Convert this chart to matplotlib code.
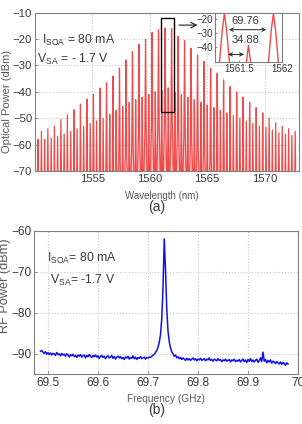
import numpy as np
import matplotlib
matplotlib.use('Agg')
import matplotlib.pyplot as plt

plt.rcParams['font.family'] = ['Liberation Sans', 'DejaVu Sans']
plt.rcParams['mathtext.fontset'] = 'custom'
plt.rcParams['mathtext.rm'] = 'Liberation Sans'
plt.rcParams['mathtext.it'] = 'Liberation Sans:italic'

# ---------------- data: (a) optical spectrum ----------------
MAIN_WL = [1549.99, 1550.56, 1551.12, 1551.69, 1552.26, 1552.82, 1553.39, 1553.96, 1554.53,
           1555.09, 1555.66, 1556.23, 1556.79, 1557.36, 1557.93, 1558.49, 1559.06, 1559.63,
           1560.20, 1560.76, 1561.33, 1561.90, 1562.46, 1563.03, 1563.60, 1564.16, 1564.73,
           1565.30, 1565.87, 1566.43, 1567.00, 1567.57, 1568.13, 1568.70, 1569.27, 1569.84,
           1570.40, 1570.97, 1571.54, 1572.10, 1572.67]
MAIN_DBM = [-56.5, -55.0, -54.0, -53.0, -50.5, -48.7, -46.8, -44.7, -42.8,
            -41.0, -38.6, -36.6, -34.0, -31.0, -27.9, -24.8, -22.0, -20.0,
            -17.5, -16.5, -15.8, -16.0, -19.0, -20.5, -23.5, -26.0, -28.5,
            -31.0, -33.0, -35.5, -38.0, -40.0, -42.0, -44.0, -46.0, -48.0,
            -50.0, -51.7, -53.0, -54.0, -55.0]
SUB_WL = [1550.27, 1550.84, 1551.41, 1551.97, 1552.54, 1553.11, 1553.67, 1554.24, 1554.81,
          1555.37, 1555.94, 1556.51, 1557.07, 1557.64, 1558.21, 1558.77, 1559.34, 1559.91,
          1560.48, 1561.04, 1561.61, 1562.18, 1562.75, 1563.31, 1563.88, 1564.45, 1565.01,
          1565.58, 1566.15, 1566.71, 1567.28, 1567.85, 1568.41, 1568.98, 1569.55, 1570.12,
          1570.68, 1571.25, 1571.82, 1572.38]
SUB_DBM = [-58.0, -58.0, -57.5, -57.0, -56.0, -55.0, -54.0, -53.0, -52.0,
           -51.0, -50.0, -48.5, -47.0, -45.5, -44.0, -43.0, -42.0, -41.0,
           -40.0, -39.5, -38.5, -40.0, -41.0, -42.0, -43.0, -44.0, -45.0,
           -46.0, -47.0, -48.0, -49.0, -50.0, -51.0, -52.0, -53.0, -53.5,
           -54.5, -55.5, -56.0, -56.5]
WL_TICKS = [1555, 1560, 1565, 1570]
OPT_TICKS = [-70, -60, -50, -40, -30, -20, -10]
INSET_XTICKS = [1561.5, 1562]
INSET_YTICKS = [-40, -30, -20]
SPACING_LABELS = ['69.76', '34.88']

# ---------------- data: (b) RF spectrum ----------------
RF_F_START, RF_F_STOP = 69.485, 69.98
RF_DBM = [
    -89.4, -89.2, -89.6, -89.9, -89.5, -90.1, -89.7, -90.2, -89.8, -90.3,
    -89.9, -90.0, -90.4, -89.7, -90.2, -90.0, -90.5, -89.9, -90.3, -90.1,
    -90.6, -90.0, -90.3, -90.8, -90.2, -90.5, -90.1, -90.7, -90.4, -90.9,
    -90.3, -90.6, -90.2, -90.8, -90.5, -90.3, -91.0, -90.4, -90.7, -90.2,
    -90.6, -90.9, -90.4, -90.7, -90.3, -90.8, -90.5, -91.1, -90.6, -90.4,
    -90.9, -90.6, -91.2, -90.7, -90.5, -91.0, -90.8, -90.4, -91.1, -90.7,
    -91.3, -90.8, -90.6, -91.0, -90.7, -91.2, -90.9, -91.4, -90.8, -91.0,
    -90.6, -91.3, -90.9, -91.1, -90.5, -91.2, -90.8, -91.4, -90.9, -91.1,
    -90.7, -91.2, -91.0, -90.8, -91.3, -90.9, -91.0, -90.8, -90.9, -90.6,
    -90.4, -90.1, -89.7, -89.2, -88.4, -87.2, -85.3, -81.5, -74.0, -62.0,
    -69.5, -79.0, -84.5, -87.0, -88.6, -89.5, -90.0, -90.6, -90.3, -91.0,
    -90.7, -91.2, -90.9, -91.4, -91.0, -91.3, -91.6, -91.1, -91.5, -91.2,
    -91.6, -91.3, -91.0, -91.5, -91.2, -91.7, -91.3, -91.5, -91.1, -91.6,
    -91.4, -91.2, -91.7, -91.3, -91.5, -91.0, -91.6, -91.4, -91.8, -91.3,
    -91.5, -91.7, -91.2, -91.6, -91.4, -91.9, -91.5, -91.7, -91.3, -91.8,
    -91.6, -91.4, -92.0, -91.5, -91.7, -91.3, -91.9, -91.6, -91.8, -91.4,
    -92.0, -91.6, -91.3, -91.9, -91.5, -92.1, -91.4, -91.8, -91.2, -91.9,
    -91.5, -92.0, -91.6, -91.3, -92.1, -91.7, -91.0, -91.9, -89.6, -91.8,
    -91.4, -92.2, -91.6, -92.0, -91.5, -92.3, -91.8, -92.0, -92.4, -91.9,
    -92.2, -92.5, -92.0, -92.6, -92.1, -92.4, -92.8, -92.2, -92.5]
RF_XTICKS = [69.5, 69.6, 69.7, 69.8, 69.9, 70.0]
RF_YTICKS = [-90, -80, -70, -60]

# ---------------- styling ----------------
TICK_COLOR = '#3a3a3a'
LABEL_COLOR = '#5a5a5a'
GRID_KW = dict(color='#c8c8c8', linestyle=':', linewidth=0.8)
SPINE_COLOR = '#808080'
LINE_RED = '#f04a4a'
FILL_PINK = '#ffc8c8'
FLOOR = -82.0
PROFILE_DX = [-0.2, -0.06, -0.025, 0.0, 0.025, 0.06, 0.2]
PROFILE_DEPTH = [None, 36.0, 12.0, 0.0, 12.0, 36.0, None]

# build optical trace from peak list
peaks = sorted(zip(MAIN_WL + SUB_WL, MAIN_DBM + SUB_DBM))
tr_x, tr_y = [], []
for wl, h in peaks:
    for dx, d in zip(PROFILE_DX, PROFILE_DEPTH):
        tr_x.append(wl + dx)
        tr_y.append(FLOOR if d is None else max(h - d, FLOOR))

fig = plt.figure(figsize=(3.02, 4.24), dpi=100)
W, H = 302.0, 424.0


def px_axes(l, r, t, b):
    return fig.add_axes([l / W, 1 - b / H, (r - l) / W, (b - t) / H])


def style(ax, fs=8.2):
    for s in ax.spines.values():
        s.set_color(SPINE_COLOR)
        s.set_linewidth(0.8)
    ax.tick_params(direction='in', length=2, width=0.6, colors=SPINE_COLOR,
                   labelcolor=TICK_COLOR, labelsize=fs, pad=2)


# ---- (a) ----
ax1 = px_axes(35, 299, 12.7, 171)
ax1.fill(tr_x, tr_y, color=FILL_PINK, lw=0, zorder=1)
ax1.plot(tr_x, tr_y, color=LINE_RED, lw=0.9, zorder=2)
ax1.set_xlim(1550, 1573)
ax1.set_ylim(-70, -10)
ax1.set_xticks(WL_TICKS)
ax1.set_yticks(OPT_TICKS)
ax1.grid(True, **GRID_KW)
ax1.set_axisbelow(True)
style(ax1)
ax1.set_xlabel('Wavelength (nm)', fontsize=7, color=LABEL_COLOR)
ax1.xaxis.set_label_coords(0.479, -0.124)
ax1.set_ylabel('Optical Power (dBm)', fontsize=8.0, color=LABEL_COLOR)
ax1.yaxis.set_label_coords(-0.088, 0.44)
ax1.text(0.025, 0.80, r'$\mathregular{I_{SOA}}$ = 80 mA', transform=ax1.transAxes,
         fontsize=8.8, color=TICK_COLOR)
ax1.text(0.007, 0.685, r'$\mathregular{V_{SA}}$ = - 1.7 V', transform=ax1.transAxes,
         fontsize=8.8, color=TICK_COLOR)
# zoom box and arrow
ax1.add_patch(plt.Rectangle((INSET_XTICKS[0] - 0.48, -47.5), 1.07, 35.5, fill=False,
                            edgecolor='black', lw=1.0, zorder=5))
ax1.annotate('', xy=(1564.4, -14.7), xytext=(1562.3, -14.7),
             arrowprops=dict(arrowstyle='->', color='#222222', lw=0.8), zorder=5)

# ---- inset ----
axi = px_axes(215, 282, 12.7, 61.5)
axi.set_facecolor('white')
axi.plot(tr_x, tr_y, color=LINE_RED, lw=1.0)
axi.set_xlim(1561.22, 1562.0)
axi.set_ylim(-50, -15.5)
axi.set_xticks(INSET_XTICKS)
axi.set_xticklabels(['1561.5', '1562'])
axi.set_yticks(INSET_YTICKS)
style(axi, fs=7)
axi.tick_params(length=1.5, pad=1.5)
axi.annotate('', xy=(MAIN_WL[21] - 0.05, -27.5), xytext=(MAIN_WL[20] + 0.02, -27.5),
             arrowprops=dict(arrowstyle='<->', color='#222222', lw=0.7, mutation_scale=6))
axi.annotate('', xy=(SUB_WL[20] - 0.02, -45), xytext=(MAIN_WL[20] + 0.01, -45),
             arrowprops=dict(arrowstyle='<->', color='#222222', lw=0.7, mutation_scale=6))
axi.text(1561.41, -21.5, SPACING_LABELS[0], fontsize=8, color=TICK_COLOR, va='center')
axi.text(1561.41, -34.5, SPACING_LABELS[1], fontsize=8, color=TICK_COLOR, va='center')

fig.text(157 / W, 1 - 207 / H, '(a)', ha='center', va='center', fontsize=10, color=TICK_COLOR)

# ---- (b) ----
ax2 = px_axes(34, 298, 230.7, 374.3)
rf_f = np.linspace(RF_F_START, RF_F_STOP, len(RF_DBM))
ax2.plot(rf_f, RF_DBM, color='#1010f0', lw=1.1)
ax2.set_xlim(69.472, 70.0)
ax2.set_ylim(-95, -60)
ax2.set_xticks(RF_XTICKS)
ax2.set_xticklabels(['69.5', '69.6', '69.7', '69.8', '69.9', '70'])
ax2.set_yticks(RF_YTICKS)
ax2.grid(True, **GRID_KW)
ax2.set_axisbelow(True)
style(ax2, fs=8.6)
ax2.set_xlabel('Frequency (GHz)', fontsize=7.3, color=LABEL_COLOR)
ax2.xaxis.set_label_coords(0.498, -0.139)
ax2.set_ylabel('RF Power (dBm)', fontsize=9.2, color=LABEL_COLOR)
ax2.yaxis.set_label_coords(-0.086, 0.62)
ax2.text(0.05, 0.78, r'$\mathregular{I_{SOA}}$= 80 mA', transform=ax2.transAxes,
         fontsize=8.8, color=TICK_COLOR)
ax2.text(0.06, 0.63, r'$\mathregular{V_{SA}}$= -1.7 V', transform=ax2.transAxes,
         fontsize=8.8, color=TICK_COLOR)

fig.text(157 / W, 1 - 410 / H, '(b)', ha='center', va='center', fontsize=10, color=TICK_COLOR)

fig.savefig('out.png', dpi=100)
